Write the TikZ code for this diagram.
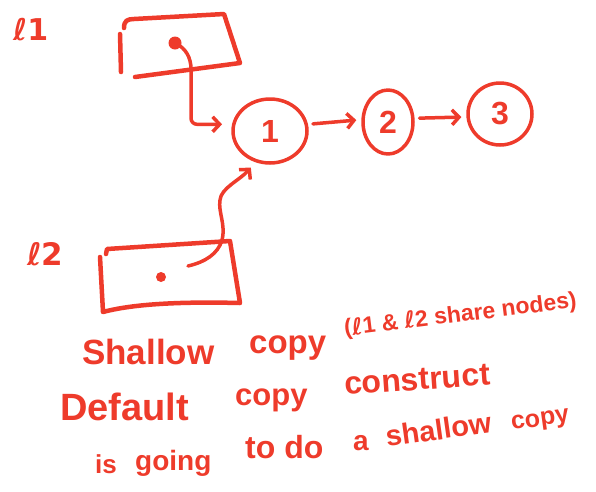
\documentclass[tikz,border=0pt]{standalone}
\usepackage{fontspec}
\setmainfont{Liberation Sans}
\newfontfamily\djv{DejaVu Sans}
\usetikzlibrary{arrows.meta,shapes.geometric}
\definecolor{ink}{HTML}{EE3B2B}
\newcommand\hwsize[1]{\fontsize{#1}{#1}\selectfont\bfseries}
\begin{document}
\begin{tikzpicture}[x=1pt,y=-1pt,line cap=round,line join=round,
  boxline/.style={draw=ink,line width=4.5pt},
  pen/.style={draw=ink,line width=3.5pt},
  tipped/.style={-{Straight Barb[length=7pt,width=15pt,line width=3.5pt]}},
  bubble/.style={ellipse,draw=ink,line width=3.5pt,inner sep=0pt,text=ink,font=\hwsize{32}},
  word/.style={text=ink,inner sep=0pt,anchor=base west}]
\useasboundingbox (0,0) rectangle (596,491);

% labels l1, l2
\node[word,font=\djv\hwsize{30}] (t1) at (13,40) {ℓ1};
\node[word,font=\djv\hwsize{31}] (t2) at (27,265) {ℓ2};

% box l1
\draw[boxline] (124,28) .. controls (124,21) and (127,19) .. (134,19) -- (224,14) -- (240,63) -- (135,77);
\draw[boxline] (120,34) -- (121,72);
\coordinate (d1) at (175,43);
\fill[ink] (d1) circle (6.5pt);

% box l2
\draw[boxline] (106,254) -- (107,249) -- (230,241) -- (240,303) .. controls (200,302) and (140,302) .. (103,312) -- (100,257);
\coordinate (d2) at (161,277);
\fill[ink] (d2) circle (5pt);
\coordinate (s2) at (188,266);

% list nodes
\node[bubble,minimum width=74pt,minimum height=64pt] (n1) at (270,131) {1};
\node[bubble,minimum width=50pt,minimum height=64pt] (n2) at (388,122) {2};
\node[bubble,minimum width=64pt,minimum height=62pt] (n3) at (500,114) {3};

% connectors
\draw[pen,tipped,rounded corners=6pt,shorten >=10pt] (d1) .. controls (186,48) and (191,58) .. (191,75) |- (n1.170);
\draw[pen,tipped,shorten <=5pt,shorten >=5pt] (n1.10) -- (n2.175);
\draw[pen,tipped,shorten <=5pt,shorten >=5pt] (n2.8) -- (n3.185);
\draw[pen,tipped,shorten >=7pt] (s2) .. controls (205,262) and (218,254) .. (222,240)
  .. controls (226,225) and (218,212) .. (220,200)
  .. controls (221,188) and (240,180) .. (n1.-115);

% text
\node[word,font=\hwsize{35}] (w1) at (82,364) {Shallow};
\node[word,font=\hwsize{33}] (w2) at (249,353) {copy};
\node[word,font=\hwsize{23},rotate=7] (w3) at (345,336) {({\djv ℓ}1 \& {\djv ℓ}2 share nodes)};
\node[word,font=\hwsize{38}] (w4) at (60,420) {Default};
\node[word,font=\hwsize{31}] (w5) at (235,405) {copy};
\node[word,font=\hwsize{32},rotate=4] (w6) at (345,395) {construct};
\node[word,font=\hwsize{26}] (w7) at (95,473) {is};
\node[word,font=\hwsize{28}] (w8) at (135,470) {going};
\node[word,font=\hwsize{32}] (w9) at (245,458) {to do};
\node[word,font=\hwsize{28}] (w10) at (353,450) {a};
\node[word,font=\hwsize{29},rotate=8] (w11) at (387,447) {shallow};
\node[word,font=\hwsize{25},rotate=8] (w12) at (512,430) {copy};
\end{tikzpicture}
\end{document}
